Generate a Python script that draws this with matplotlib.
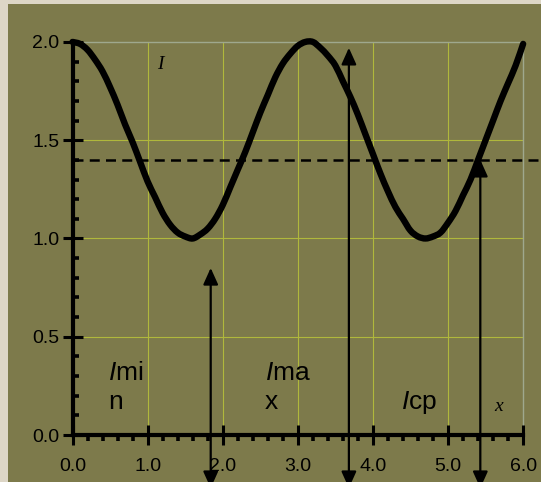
import matplotlib.pyplot as plt
from matplotlib.path import Path
from matplotlib.patches import PathPatch
from matplotlib.ticker import FixedLocator

# curve I(x), every 0.1
x_vals = [round(0.1 * i, 1) for i in range(61)]
i_vals = [2.00, 1.99, 1.96, 1.91, 1.85, 1.77, 1.68, 1.58, 1.49, 1.39,
          1.29, 1.21, 1.13, 1.07, 1.03, 1.01, 1.00, 1.02, 1.05, 1.10,
          1.17, 1.26, 1.35, 1.44, 1.54, 1.64, 1.73, 1.82, 1.89, 1.94,
          1.98, 2.00, 2.00, 1.97, 1.93, 1.88, 1.80, 1.72, 1.63, 1.53,
          1.43, 1.33, 1.24, 1.16, 1.10, 1.04, 1.01, 1.00, 1.01, 1.03,
          1.08, 1.14, 1.22, 1.30, 1.40, 1.50, 1.60, 1.70, 1.79, 1.88,
          1.99]

i_cp = 1.40                      # dashed level
arrow_x = [1.84, 3.68, 5.43]     # vertical arrows
arrow_top = [0.85, 1.97, 1.40]
labels = ["$\\mathit{I}$mi\nn", "$\\mathit{I}$ma\nx", "$\\mathit{I}$cp"]
label_x = [0.47, 2.56, 4.38]
xticks = [0, 1, 2, 3, 4, 5, 6]
yticks = [0, 0.5, 1.0, 1.5, 2.0]

olive = "#7d7a4b"
grid_c = "#b0b83c"
edge_c = "#9fa88e"

plt.rcParams['font.family'] = ['Liberation Sans', 'DejaVu Sans']
plt.rcParams['mathtext.fontset'] = 'custom'
plt.rcParams['mathtext.it'] = 'Liberation Sans:italic'


def smooth_path(xs, ys):
    # catmull-rom through the read points, as bezier segments
    verts = [(xs[0], ys[0])]
    codes = [Path.MOVETO]
    n = len(xs)
    for k in range(n - 1):
        x0, y0 = xs[max(k - 1, 0)], ys[max(k - 1, 0)]
        x1, y1 = xs[k], ys[k]
        x2, y2 = xs[k + 1], ys[k + 1]
        x3, y3 = xs[min(k + 2, n - 1)], ys[min(k + 2, n - 1)]
        verts += [(x1 + (x2 - x0) / 6, y1 + (y2 - y0) / 6),
                  (x2 - (x3 - x1) / 6, y2 - (y3 - y1) / 6),
                  (x2, y2)]
        codes += [Path.CURVE4] * 3
    return Path(verts, codes)


fig = plt.figure(figsize=(5.41, 4.82), dpi=100)
fig.patch.set_facecolor("#ddd6c6")
ax = fig.add_axes([8 / 541, 0, 533 / 541, 478 / 482])
ax.set_facecolor(olive)
ax.set_xlim(-0.859, 6.238)
ax.set_ylim(-0.239, 2.193)

# grid only inside the data box
ax.vlines(xticks[1:-1], 0, 2, color=grid_c, lw=0.8, zorder=1)
ax.hlines(yticks[1:-1], 0, 6, color=grid_c, lw=0.8, zorder=1)
ax.hlines(2.0, 0, 6, color=edge_c, lw=1.0, zorder=1)
ax.vlines(6.0, 0, 2, color=edge_c, lw=1.0, zorder=1)

ax.add_patch(PathPatch(smooth_path(x_vals, i_vals), fill=False,
                       edgecolor="black", lw=4.6, capstyle="round",
                       zorder=4))
ax.plot([0, 6.3], [i_cp, i_cp], color="black", lw=1.8, ls=(0, (4, 2.5)),
        zorder=3, clip_on=False)

for xa, ya in zip(arrow_x, arrow_top):
    ax.annotate("", xy=(xa, ya), xytext=(xa, -0.27),
                arrowprops=dict(arrowstyle="<|-|>,head_length=1.0,head_width=0.45",
                                color="black", lw=1.6, shrinkA=0, shrinkB=0),
                annotation_clip=False, zorder=5)

for t, xl in zip(labels, label_x):
    ax.text(xl, 0.13, t, fontsize=19, ha="left", va="baseline",
            linespacing=1.3)

ax.text(1.13, 1.86, "I", fontsize=14, family="Liberation Serif",
        style="italic")
ax.text(5.62, 0.12, "x", fontsize=14, family="Liberation Serif",
        style="italic")

# axes lines through the origin
for s in ["top", "right"]:
    ax.spines[s].set_visible(False)
ax.spines["left"].set_position(("data", 0))
ax.spines["bottom"].set_position(("data", 0))
ax.spines["left"].set_bounds(0, 2)
ax.spines["bottom"].set_bounds(0, 6)
ax.spines["left"].set_linewidth(3)
ax.spines["bottom"].set_linewidth(3)

ax.set_xticks(xticks)
ax.set_xticklabels(["0.0", "1.0", "2.0", "3.0", "4.0", "5.0", "6.0"])
ax.set_yticks(yticks)
ax.set_yticklabels(["0.0", "0.5", "1.0", "1.5", "2.0"])
ax.xaxis.set_minor_locator(FixedLocator([0.2 * k for k in range(31)
                                         if k % 5]))
ax.yaxis.set_minor_locator(FixedLocator([0.1 * k for k in range(21)
                                         if k % 5]))
ax.tick_params(which="major", direction="inout", length=15, width=2.2,
               labelsize=14, color="black")
ax.tick_params(axis="x", which="major", pad=9)
ax.tick_params(axis="y", which="major", pad=2)
ax.tick_params(axis="x", which="minor", direction="out", length=4.5,
               width=2.6)
ax.tick_params(axis="y", which="minor", direction="in", length=4.5,
               width=2.6)

fig.savefig("out.png", dpi=100, facecolor=fig.get_facecolor())
